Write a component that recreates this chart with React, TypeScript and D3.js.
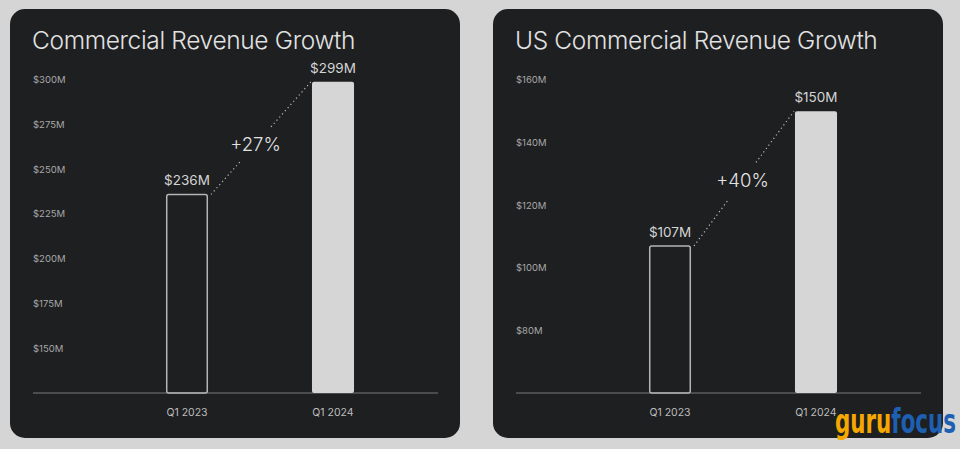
import React, { useEffect, useRef } from 'react';
import * as d3 from 'd3';

const quarters = ['Q1 2023', 'Q1 2024'];

const commercialTitle = 'Commercial Revenue Growth';
const commercialValues = [236, 299];
const commercialTicks = [150, 175, 200, 225, 250, 275, 300];
const commercialDomain = [125, 300];
const commercialGrowth = '+27%';

const usTitle = 'US Commercial Revenue Growth';
const usValues = [107, 150];
const usTicks = [80, 100, 120, 140, 160];
const usDomain = [60, 160];
const usGrowth = '+40%';

const W = 960;
const H = 449;

const drawPanel = (svg, offsetX, title, values, ticks, domain, growth, labelGap) => {
  const g = svg.append('g').attr('transform', `translate(${offsetX},0)`);
  const font = 'Inter, "Noto Sans", sans-serif';

  g.append('rect')
    .attr('x', 10).attr('y', 9)
    .attr('width', 450).attr('height', 429)
    .attr('rx', 15)
    .attr('fill', '#1e1f21');

  g.append('text')
    .attr('x', 32).attr('y', 49)
    .attr('fill', '#e2e2e2')
    .attr('font-family', font)
    .attr('font-weight', 300)
    .attr('font-size', 24.5)
    .attr('letter-spacing', -0.35)
    .text(title);

  const y = d3.scaleLinear().domain(domain).range([393, 80]);
  const x = d3.scaleBand()
    .domain(quarters)
    .range([114, 406])
    .paddingInner(0.712)
    .paddingOuter(0.356);

  // tick labels (no tick marks)
  g.append('g')
    .selectAll('text')
    .data(ticks)
    .join('text')
    .attr('x', 33)
    .attr('y', d => y(d))
    .attr('dy', '0.35em')
    .attr('fill', '#a8a8a8')
    .attr('font-family', font)
    .attr('font-size', 9.5)
    .text(d => `$${d}M`);

  // baseline
  g.append('line')
    .attr('x1', 33).attr('x2', 438)
    .attr('y1', 393).attr('y2', 393)
    .attr('stroke', '#7a7a7a')
    .attr('stroke-width', 1.2);

  const bars = values.map((v, i) => ({ q: quarters[i], v }));

  g.append('g')
    .selectAll('rect')
    .data(bars)
    .join('rect')
    .attr('x', d => x(d.q) + (d.q === quarters[0] ? 0.75 : 0))
    .attr('y', d => y(d.v))
    .attr('width', d => x.bandwidth() - (d.q === quarters[0] ? 1.5 : 0))
    .attr('height', d => 393 - y(d.v))
    .attr('rx', 2)
    .attr('fill', (d, i) => (i === 0 ? 'none' : '#d6d6d6'))
    .attr('stroke', (d, i) => (i === 0 ? '#b5b5b5' : 'none'))
    .attr('stroke-width', 1.5);

  g.append('g')
    .selectAll('text')
    .data(bars)
    .join('text')
    .attr('x', d => x(d.q) + x.bandwidth() / 2)
    .attr('y', d => y(d.v) - 9)
    .attr('text-anchor', 'middle')
    .attr('fill', '#d4d4d4')
    .attr('font-family', font)
    .attr('font-size', 13.5)
    .text(d => `$${d.v}M`);

  g.append('g')
    .selectAll('text')
    .data(quarters)
    .join('text')
    .attr('x', d => x(d) + x.bandwidth() / 2)
    .attr('y', 416)
    .attr('text-anchor', 'middle')
    .attr('fill', '#bdbdbd')
    .attr('font-family', font)
    .attr('font-size', 10.5)
    .text(d => d);

  // dotted growth connector with a gap for the label
  const x0 = x(quarters[0]) + x.bandwidth() + 3;
  const y0 = y(values[0]);
  const x1 = x(quarters[1]) - 1;
  const y1 = y(values[1]);
  const lerp = t => [x0 + (x1 - x0) * t, y0 + (y1 - y0) * t];
  const [a0, a1] = labelGap;
  [[0, a0], [a1, 1]].forEach(([t0, t1]) => {
    const p = lerp(t0);
    const q = lerp(t1);
    g.append('line')
      .attr('x1', p[0]).attr('y1', p[1])
      .attr('x2', q[0]).attr('y2', q[1])
      .attr('stroke', '#bcbcbc')
      .attr('stroke-width', 1.2)
      .attr('stroke-dasharray', '1.2,3');
  });
  const mid = lerp((a0 + a1) / 2);
  g.append('text')
    .attr('x', mid[0])
    .attr('y', mid[1])
    .attr('dy', '0.36em')
    .attr('text-anchor', 'middle')
    .attr('fill', '#e2e2e2')
    .attr('font-family', font)
    .attr('font-weight', 300)
    .attr('font-size', 18.5)
    .text(growth);
};

const App = () => {
  const ref = useRef(null);

  useEffect(() => {
    const svg = d3.select(ref.current);
    svg.selectAll('*').remove();

    svg.append('rect').attr('width', W).attr('height', H).attr('fill', '#d5d5d5');

    drawPanel(svg, 0, commercialTitle, commercialValues, commercialTicks, commercialDomain, commercialGrowth, [0.29, 0.6]);
    drawPanel(svg, 483, usTitle, usValues, usTicks, usDomain, usGrowth, [0.35, 0.62]);

    // watermark
    const logo = svg.append('text')
      .attr('x', 835)
      .attr('y', 433)
      .attr('font-family', '"Liberation Sans Narrow", "DejaVu Sans Condensed", sans-serif')
      .attr('font-size', 33)
      .attr('font-weight', 'bold')
      .attr('textLength', 121)
      .attr('lengthAdjust', 'spacingAndGlyphs');
    logo.append('tspan').attr('fill', '#f6a800').text('guru');
    logo.append('tspan').attr('fill', '#1d5fb3').text('focus');
  }, []);

  return (
    <svg
      ref={ref}
      width={W}
      height={H}
      style={{ position: 'absolute', left: 0, top: 0, display: 'block' }}
    />
  );
};

export default App;
